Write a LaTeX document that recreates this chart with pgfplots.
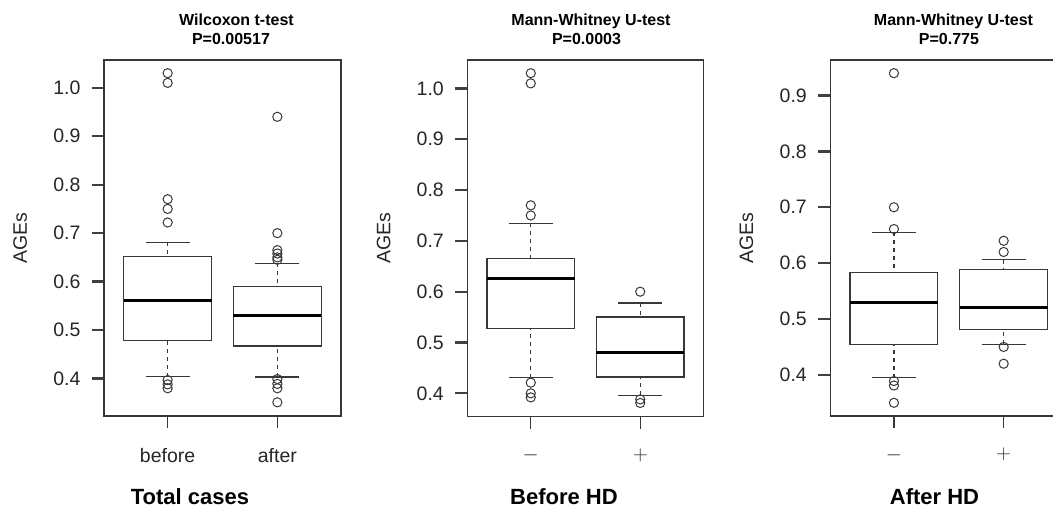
\documentclass[border=0pt]{standalone}
\usepackage{fontspec}
\setmainfont{Liberation Sans}
\usepackage{pgfplots}
\pgfplotsset{compat=1.18}
\usepgfplotslibrary{statistics}

\definecolor{ln}{gray}{0.22}
\pgfplotsset{
  rbox/.style={
    scale only axis,
    xmin=0.42, xmax=2.58,
    xtick={1,2},
    tick pos=left,
    tick align=outside,
    major tick length=12pt,
    axis line style={line width=1.4pt, draw=ln},
    xtick style={line width=1.3pt, draw=ln},
    ytick style={line width=2.3pt, draw=black!75},
    tick label style={font=\fontsize{19.5}{22}\selectfont, text=black!85},
    /pgf/number format/assume math mode=true,
    yticklabel style={xshift=-8pt, /pgf/number format/.cd, fixed, fixed zerofill, precision=1},
    xticklabel style={yshift=-16.5pt},
    ylabel={AGEs},
    every axis y label/.style={at={(axis description cs:-0.354,0.5)}, rotate=90, anchor=center, font=\fontsize{19.5}{22}\selectfont, text=black!85},
    boxplot/draw direction=y,
    boxplot/box extend=0.8,
    boxplot/whisker extend=0.4,
    boxplot/every box/.style={draw=ln, line width=1.3pt, fill=white},
    boxplot/every median/.style={draw=black, line width=3pt},
    boxplot/draw/lower whisker/.code={%
      \draw[ln, line width=1.3pt, dash pattern=on 4pt off 4pt]
        (boxplot box cs:\pgfplotsboxplotvalue{lower whisker},0.5) --
        (boxplot box cs:\pgfplotsboxplotvalue{lower quartile},0.5);
      \draw[ln, line width=1.3pt]
        (boxplot whisker cs:\pgfplotsboxplotvalue{lower whisker},0) --
        (boxplot whisker cs:\pgfplotsboxplotvalue{lower whisker},1);
    },
    boxplot/draw/upper whisker/.code={%
      \draw[ln, line width=1.3pt, dash pattern=on 4pt off 4pt]
        (boxplot box cs:\pgfplotsboxplotvalue{upper whisker},0.5) --
        (boxplot box cs:\pgfplotsboxplotvalue{upper quartile},0.5);
      \draw[ln, line width=1.3pt]
        (boxplot whisker cs:\pgfplotsboxplotvalue{upper whisker},0) --
        (boxplot whisker cs:\pgfplotsboxplotvalue{upper whisker},1);
    },
  },
  rpts/.style={mark=o, mark size=4.6pt, mark options={draw=ln, line width=1pt, fill=none, solid}},
}

\begin{document}
\begin{tikzpicture}
\useasboundingbox (0,0) rectangle (1053pt,508pt);
\clip (0,0) rectangle (1053pt,508pt);

% Panel 1: Total cases
\begin{axis}[rbox, at={(104pt,92pt)}, anchor=south west,
  width=237pt, height=356pt,
  ymin=0.3228, ymax=1.0572, ytick={0.4,0.5,...,1.0},
  xticklabels={before, after}]
\addplot[rpts, boxplot prepared={draw position=1,
  lower whisker=0.404, lower quartile=0.479, median=0.561,
  upper quartile=0.652, upper whisker=0.681}]
  coordinates {(0,1.03) (0,1.01) (0,0.77) (0,0.75) (0,0.722) (0,0.397) (0,0.388) (0,0.380)};
\addplot[rpts, boxplot prepared={draw position=2,
  lower whisker=0.403, lower quartile=0.467, median=0.530,
  upper quartile=0.590, upper whisker=0.638}]
  coordinates {(0,0.94) (0,0.70) (0,0.665) (0,0.658) (0,0.650) (0,0.645) (0,0.399) (0,0.389) (0,0.380) (0,0.351)};
\end{axis}

% Panel 2: Before HD
\begin{axis}[rbox, at={(467.3pt,91.3pt)}, anchor=south west,
  width=236.4pt, height=356.7pt,
  ymin=0.354, ymax=1.056, ytick={0.4,0.5,...,1.0},
  xticklabels={$-$, $+$}]
\addplot[rpts, boxplot prepared={draw position=1,
  lower whisker=0.431, lower quartile=0.528, median=0.625,
  upper quartile=0.665, upper whisker=0.7345}]
  coordinates {(0,1.03) (0,1.01) (0,0.77) (0,0.75) (0,0.421) (0,0.400) (0,0.392)};
\addplot[rpts, boxplot prepared={draw position=2,
  lower whisker=0.396, lower quartile=0.432, median=0.480,
  upper quartile=0.550, upper whisker=0.578}]
  coordinates {(0,0.60) (0,0.388) (0,0.381)};
\end{axis}

% Panel 3: After HD
\begin{axis}[rbox, at={(830.3pt,92pt)}, anchor=south west,
  width=237pt, height=356pt,
  ymin=0.3264, ymax=0.9636, ytick={0.4,0.5,...,0.9},
  xticklabels={$-$, $+$}]
\addplot[rpts, boxplot prepared={draw position=1,
  lower whisker=0.395, lower quartile=0.4546, median=0.530,
  upper quartile=0.583, upper whisker=0.655}]
  coordinates {(0,0.94) (0,0.70) (0,0.661) (0,0.389) (0,0.381) (0,0.350)};
\addplot[rpts, boxplot prepared={draw position=2,
  lower whisker=0.4546, lower quartile=0.481, median=0.520,
  upper quartile=0.588, upper whisker=0.606}]
  coordinates {(0,0.64) (0,0.62) (0,0.45) (0,0.42)};
\end{axis}

% Titles
\begin{scope}[every node/.style={font=\bfseries\fontsize{16}{19}\selectfont, anchor=base, inner sep=0pt}]
\node at (236.5pt,482pt) {Wilcoxon t-test};
\node at (231pt,463pt) {P=0.00517};
\node at (591pt,482pt) {Mann-Whitney U-test};
\node at (586.5pt,463pt) {P=0.0003};
\node at (953.5pt,482pt) {Mann-Whitney U-test};
\node at (949pt,463pt) {P=0.775};
\end{scope}
\begin{scope}[every node/.style={font=\bfseries\fontsize{22}{26}\selectfont, anchor=base, inner sep=0pt}]
\node at (190pt,3pt) {Total cases};
\node at (564pt,3pt) {Before HD};
\node at (934.5pt,3pt) {After HD};
\end{scope}
\end{tikzpicture}
\end{document}
